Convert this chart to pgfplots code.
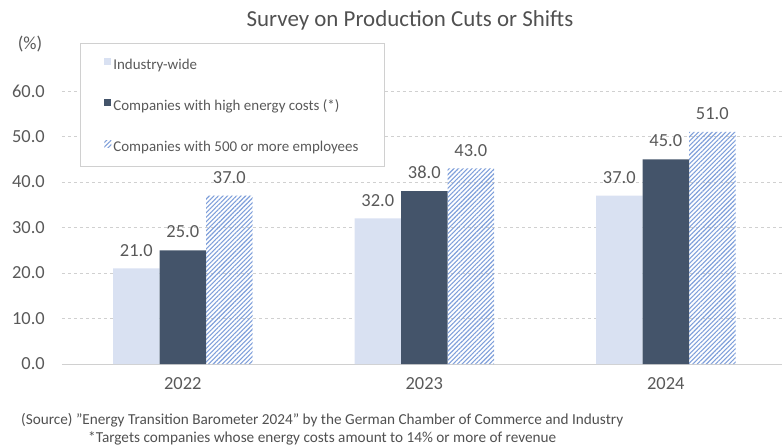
\documentclass[border=0pt]{standalone}
\usepackage{pgfplots}
\pgfplotsset{compat=1.18}
\usepackage{fontspec}
\setmainfont{Carlito}
\usetikzlibrary{patterns.meta}
\definecolor{lightbar}{HTML}{D9E1F2}
\definecolor{darkbar}{HTML}{44546A}
\definecolor{hatchc}{HTML}{7F9FDA}
\definecolor{txt}{HTML}{595959}
\definecolor{gridc}{HTML}{D0D0D0}
\begin{document}
\begin{tikzpicture}
\useasboundingbox (-62bp,-82bp) rectangle (720bp,364bp);
\begin{axis}[
  at={(0,0)}, anchor=south west, scale only axis,
  width=720bp, height=318.5bp,
  xmin=-0.5, xmax=2.481, ymin=0, ymax=70,
  ybar=0pt, bar width=46.5bp,
  xtick={0,1,2}, xticklabels={2022,2023,2024},
  ytick={0,10,...,60},
  major tick length=0pt,
  axis x line*=bottom, axis y line*=left,
  x axis line style={draw=gridc, line width=0.8pt},
  y axis line style={draw=none},
  ymajorgrids, grid style={draw=gridc, dashed, line width=0.6pt},
  /pgf/number format/.cd, fixed, fixed zerofill, precision=1, assume math mode=true,
  /pgfplots/.cd,
  tick label style={font=\fontsize{18.5}{20}\selectfont, text=txt},
  yticklabel style={inner sep=0pt, anchor=east, xshift=-17bp},
  xticklabel style={inner sep=0pt, anchor=north, yshift=-13bp},
  nodes near coords,
  every node near coord/.append style={font=\fontsize{18.5}{20}\selectfont, text=txt, inner sep=0pt, anchor=south, yshift=12bp},
  legend cell align=left,
  legend style={at={(0.025,1.008)}, anchor=north west, draw=gridc, fill=white,
    font=\fontsize{15}{17}\selectfont, text=txt, inner xsep=24bp, inner ysep=15bp,
    row sep=30bp, line width=0.8pt,
    nodes={text height=8bp, text depth=0bp, inner ysep=0pt}},
  legend image code/.code={\fill[#1] (0bp,0bp) rectangle (7bp,7bp);},
]
\addplot[fill=lightbar, draw=none] coordinates {(0,21) (1,32) (2,37)};
\addlegendentry{Industry-wide}
\addplot[fill=darkbar, draw=none] coordinates {(0,25) (1,38) (2,45)};
\addlegendentry{Companies with high energy costs (*)}
\addplot[draw=none, pattern={Lines[angle=45, distance=3.2bp, line width=1.1bp]}, pattern color=hatchc] coordinates {(0,37) (1,43) (2,51)};
\addlegendentry{Companies with 500 or more employees}
\end{axis}
\node[font=\fontsize{23}{27}\selectfont, text=txt!90!black] at (348bp,344bp) {Survey on Production Cuts or Shifts};
\node[font=\fontsize{18.5}{20}\selectfont, text=txt] at (-32bp,320bp) {(\%)};
\node[font=\fontsize{15.3}{17}\selectfont, text=txt!90!black, anchor=west, inner sep=0pt] at (-41bp,-56bp) {(Source) "Energy Transition Barometer 2024" by the German Chamber of Commerce and Industry};
\node[font=\fontsize{15.3}{17}\selectfont, text=txt!90!black, anchor=west, inner sep=0pt] at (26bp,-74bp) {*Targets companies whose energy costs amount to 14\% or more of revenue};
\end{tikzpicture}
\end{document}
